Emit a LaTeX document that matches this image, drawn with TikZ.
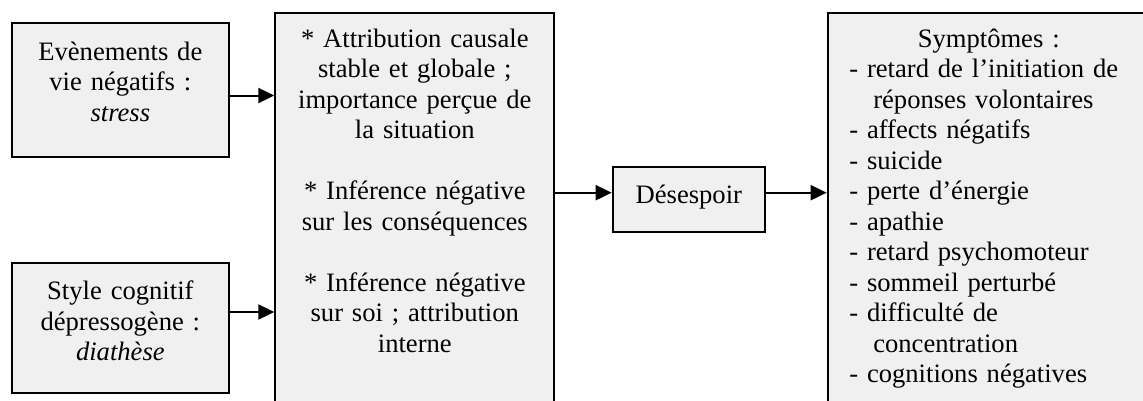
\documentclass[tikz,border=0pt]{standalone}
\usepackage{fontspec}
\setmainfont{Liberation Serif}
\usetikzlibrary{arrows.meta,positioning}
\definecolor{boxgray}{HTML}{F0F0F0}

\begin{document}
\begin{tikzpicture}[
    x=1pt, y=-1pt,
    block/.style={rectangle, draw, line width=2pt, fill=boxgray, inner sep=0pt, anchor=north west, align=center, font=\fontsize{26.6pt}{30.5pt}\selectfont},
    arrow/.style={-{Triangle[length=16pt,width=15pt]}, line width=2pt}
]
    \path[use as bounding box, clip] (0,0) rectangle (1143,400);

    % Causes
    \node[block, text width=216.7pt, text height=36.7pt, text depth=96.7pt] (stress) at (11,22.3) {Evènements de\\vie négatifs :\\\textit{stress}};
    \node[block, text width=216.7pt, text height=36.5pt, text depth=93.5pt] (diathese) at (11,262) {Style cognitif\\dépressogène :\\\textit{diathèse}};

    % Inferences
    \node[block, text width=279pt, text height=34.3pt, text depth=420pt] (attrib) at (274.3,11.7) {* Attribution causale\\stable et globale ;\\importance perçue de\\la situation\\[30.5pt]* Inférence négative\\sur les conséquences\\[30.5pt]* Inférence négative\\sur soi ; attribution\\interne};

    % Hopelessness and symptoms
    \node[block, text width=152.3pt, text height=36.7pt, text depth=28.3pt] (desespoir) at (611.7,166) {Désespoir};
    \node[block, align=left, inner xsep=21.6pt, text width=278.8pt, text height=34.3pt, text depth=420pt] (symptoms) at (826.7,11.7) {\makebox[\linewidth]{Symptômes :}\\
        - retard de l’initiation de\\
        \hspace*{24pt}réponses volontaires\\
        - affects négatifs\\
        - suicide\\
        - perte d’énergie\\
        - apathie\\
        - retard psychomoteur\\
        - sommeil perturbé\\
        - difficulté de\\
        \hspace*{24pt}concentration\\
        - cognitions négatives};

    % Arrows
    \draw[arrow] ([yshift=-5.5pt]stress.east) -- ([yshift=-5.5pt]stress.east -| attrib.west);
    \draw[arrow] ([yshift=16pt]diathese.east) -- ([yshift=16pt]diathese.east -| attrib.west);
    \draw[arrow] ([yshift=6.8pt]desespoir.west -| attrib.east) -- ([yshift=6.8pt]desespoir.west);
    \draw[arrow] ([yshift=6.8pt]desespoir.east) -- ([yshift=6.8pt]desespoir.east -| symptoms.west);
\end{tikzpicture}
\end{document}
